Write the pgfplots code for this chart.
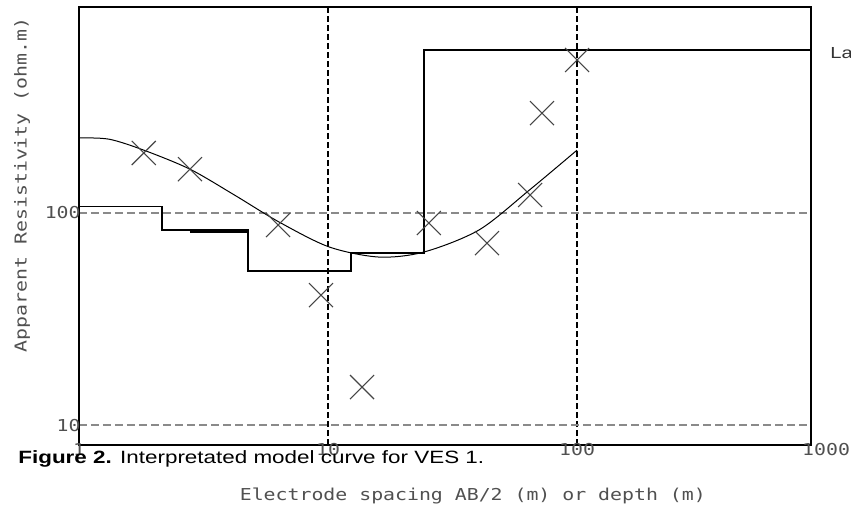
\documentclass[border=0pt]{standalone}
\usepackage{fontspec}
\setmainfont{Liberation Sans}
\newfontfamily\monof[FakeStretch=1.21]{DejaVu Sans Mono}
\newfontfamily\capf[FakeStretch=1.26]{Liberation Sans}
\usepackage{pgfplots}
\pgfplotsset{compat=1.18}
\definecolor{txtgray}{HTML}{505050}
\definecolor{gridgray}{HTML}{8A8A8A}
\definecolor{markgray}{HTML}{454545}
\begin{document}
\begin{tikzpicture}
\path[use as bounding box] (-39.5pt,-32.5pt) rectangle (386pt,222.5pt);
\begin{axis}[
  scale only axis, width=366pt, height=219pt,
  xmode=log, ymode=log,
  xmin=1, xmax=870, ymin=8.05, ymax=937,
  xtick={1,10,100}, xticklabels={1,10,100},
  ytick={10,100}, yticklabels={10,100},
  minor xtick={}, minor ytick={},
  major tick length=0pt, minor tick length=0pt,
  clip=false,
  axis line style={line width=0.8pt},
  xmajorgrids, ymajorgrids,
  x grid style={black, line width=0.6pt, dash pattern=on 3pt off 1.5pt},
  y grid style={gridgray, line width=0.7pt, dash pattern=on 4pt off 2pt},
  tick label style={font=\monof\fontsize{8.2}{9}\selectfont, text=txtgray},
  xticklabel style={anchor=north, inner sep=0pt, yshift=1pt},
  yticklabel style={anchor=east, inner sep=0pt, xshift=1pt},
  label style={font=\monof\fontsize{8.2}{9}\selectfont, text=txtgray},
  xlabel={Electrode spacing AB/2 (m) or depth (m)},
  xlabel style={at={(axis description cs:0.538,-0.1256)}, anchor=base},
  ylabel={Apparent Resistivity (ohm.m)},
  ylabel style={at={(axis description cs:-0.0779,0.594)}, anchor=center},
]
% smooth model curve
\addplot[black, line width=0.5pt, smooth] coordinates {
 (1,226) (1.32,223) (1.82,198) (2.79,161) (4.19,122) (6.36,90.7)
 (10.1,69.2) (16.0,62.0) (24.3,65.5) (40.4,83.2) (64.2,128) (100,198)
};
% layered model (steps)
\addplot[black, line width=0.7pt] coordinates {
 (1,107) (2.154,107) (2.154,83.1) (4.77,83.1) (4.77,53.2) (12.37,53.2)
 (12.37,64.7) (24.3,64.7) (24.3,588) (870,588)
};
\addplot[black, line width=0.9pt] coordinates {(2.79,81.6) (4.77,81.6)};
% field data
\addplot[only marks, mark=x, mark size=8.5pt, mark options={markgray, line width=0.55pt}] coordinates {
 (1.82,192) (2.79,161) (6.30,87.8) (9.37,41.0) (13.7,15.1)
 (25.4,89.7) (43.5,72.1) (64.8,121.6) (72.3,296) (100,527)
};
\node[anchor=north, inner sep=0pt, yshift=1pt, font=\monof\fontsize{8.2}{9}\selectfont, text=txtgray] at (axis cs:1000,8.05) {1000};
\end{axis}
\node[anchor=base west, inner sep=0pt, font=\capf\fontsize{8.9}{10}\selectfont] at (-30.5pt,-9pt) {\textbf{Figure 2.} Interpretated model curve for VES 1.};
\node[anchor=base west, inner sep=0pt, font=\capf\fontsize{8}{9}\selectfont, text=black!80] at (375.5pt,193.5pt) {La};
\end{tikzpicture}
\end{document}
